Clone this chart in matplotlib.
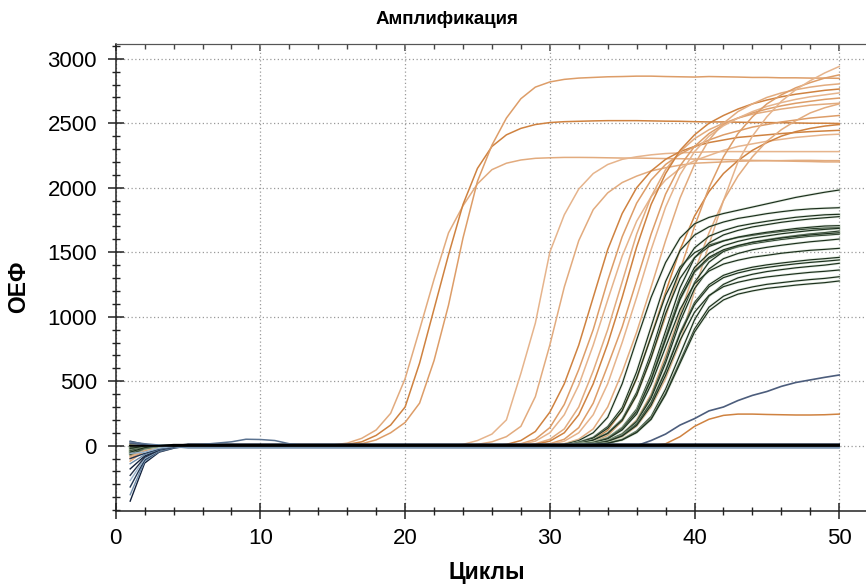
import numpy as np
import matplotlib.pyplot as plt
from matplotlib.ticker import MultipleLocator

plt.rcParams['font.family'] = ['Liberation Sans', 'DejaVu Sans']

cycles = np.arange(1, 51)

# orange samples: first cycle of the rise and the values read from there to cycle 50
orange_start = [15, 16, 17, 24, 25, 27, 28, 28, 29, 29, 30, 30, 31, 32, 32, 33, 33, 37]
orange_rise = [
    [5, 20, 57, 122, 251, 520, 900, 1290, 1650, 1860, 2030, 2140, 2190, 2215, 2228, 2232,
     2235, 2235, 2234, 2232, 2230, 2230, 2228, 2226, 2225, 2222, 2220, 2218, 2215, 2212,
     2210, 2208, 2205, 2203, 2200, 2200],
    [10, 30, 80, 160, 300, 640, 1060, 1480, 1870, 2150, 2320, 2410, 2460, 2490, 2505,
     2512, 2515, 2518, 2520, 2520, 2520, 2518, 2516, 2515, 2512, 2510, 2510, 2508, 2506,
     2505, 2504, 2502, 2500, 2500, 2498],
    [15, 45, 100, 180, 330, 660, 1090, 1610, 2050, 2330, 2540, 2690, 2780, 2820, 2840,
     2850, 2855, 2860, 2862, 2865, 2865, 2862, 2860, 2858, 2862, 2860, 2858, 2855, 2855,
     2852, 2852, 2850, 2850, 2848],
    [10, 40, 90, 200, 560, 950, 1500, 1790, 1990, 2110, 2180, 2220, 2240, 2255, 2265,
     2270, 2275, 2278, 2280, 2280, 2280, 2280, 2280, 2280, 2280, 2280, 2280],
    [10, 30, 70, 150, 380, 780, 1230, 1590, 1830, 1960, 2040, 2090, 2130, 2155, 2175,
     2190, 2195, 2200, 2205, 2208, 2210, 2210, 2212, 2212, 2210, 2210],
    [10, 40, 110, 260, 480, 780, 1150, 1520, 1800, 2000, 2130, 2220, 2280, 2320, 2350,
     2370, 2390, 2400, 2410, 2420, 2428, 2435, 2440, 2445],
    [15, 50, 140, 320, 590, 900, 1280, 1620, 1880, 2060, 2180, 2260, 2320, 2370, 2410,
     2440, 2470, 2490, 2510, 2525, 2540, 2550, 2560],
    [10, 35, 100, 240, 470, 780, 1130, 1470, 1740, 1930, 2060, 2150, 2210, 2250, 2290,
     2320, 2340, 2360, 2375, 2390, 2400, 2410, 2415],
    [15, 50, 130, 300, 580, 900, 1270, 1640, 1930, 2140, 2280, 2380, 2450, 2500, 2540,
     2570, 2590, 2610, 2625, 2640, 2648, 2655],
    [10, 35, 100, 240, 480, 790, 1150, 1540, 1870, 2110, 2290, 2410, 2500, 2560, 2610,
     2650, 2680, 2705, 2725, 2740, 2755, 2765],
    [15, 50, 140, 330, 620, 920, 1280, 1640, 1950, 2170, 2320, 2420, 2490, 2540, 2580,
     2610, 2635, 2655, 2670, 2685, 2695],
    [10, 35, 100, 240, 480, 800, 1150, 1520, 1850, 2100, 2280, 2400, 2480, 2540, 2590,
     2630, 2660, 2685, 2705, 2720, 2735],
    [15, 50, 130, 300, 570, 880, 1230, 1590, 1920, 2180, 2370, 2500, 2590, 2650, 2700,
     2735, 2760, 2780, 2795, 2805],
    [15, 45, 120, 270, 520, 850, 1190, 1520, 1780, 1970, 2110, 2210, 2290, 2350, 2400,
     2435, 2460, 2478, 2490],
    [10, 30, 80, 190, 390, 680, 1000, 1360, 1700, 2000, 2240, 2420, 2550, 2650, 2720,
     2775, 2815, 2850, 2875],
    [10, 30, 70, 150, 300, 520, 800, 1200, 1560, 1900, 2200, 2400, 2550, 2670, 2760,
     2830, 2890, 2940],
    [10, 35, 90, 200, 400, 700, 1020, 1350, 1650, 1900, 2090, 2240, 2360, 2450, 2520,
     2580, 2620, 2650],
    [0, 15, 70, 150, 205, 235, 245, 245, 242, 240, 238, 238, 240, 245],
]
orange_head = [
    [-120, -40, -10], [-80, -30, -5], [-50, -20, -5], [-30, -10, 0], [-10, 0, 0],
    [10, 5, 0], [-100, -35, -10], [-60, -25, -5], [-40, -15, 0], [-20, -5, 0],
    [0, 0, 0], [-90, -30, -10], [-70, -25, -5], [-45, -15, 0], [-25, -10, 0],
    [5, 0, 0], [-55, -20, -5], [-35, -10, 0],
]
orange_flat_head = [[-65, -25, -5], [10, 5, 0]]
orange_flat_level = [5, -10]

# green samples: the first one starts at cycle 31, the rest at cycle 32
green_start = [31] + [32] * 17
green_rise = [
    [10, 40, 100, 220, 480, 820, 1150, 1420, 1610, 1720, 1770, 1800, 1825, 1850, 1875,
     1900, 1925, 1945, 1965, 1982],
    [28, 65, 148, 295, 572, 922, 1273, 1513, 1633, 1697, 1734, 1762, 1780, 1799, 1814,
     1827, 1836, 1841, 1845],
    [25, 59, 135, 270, 524, 845, 1166, 1386, 1496, 1555, 1589, 1614, 1631, 1648, 1661,
     1673, 1682, 1687, 1690],
    [18, 45, 99, 206, 413, 718, 1076, 1363, 1534, 1624, 1668, 1701, 1722, 1740, 1756,
     1771, 1781, 1790, 1794],
    [17, 43, 94, 196, 392, 682, 1024, 1297, 1459, 1544, 1587, 1617, 1638, 1655, 1670,
     1684, 1694, 1703, 1706],
    [12, 27, 62, 142, 284, 551, 888, 1225, 1456, 1572, 1634, 1669, 1696, 1714, 1732,
     1746, 1758, 1767, 1776],
    [12, 25, 59, 135, 270, 522, 843, 1163, 1382, 1491, 1550, 1584, 1609, 1626, 1643,
     1656, 1668, 1677, 1685],
    [11, 25, 57, 131, 262, 508, 820, 1132, 1345, 1451, 1509, 1542, 1566, 1583, 1599,
     1612, 1624, 1632, 1640],
    [8, 17, 42, 92, 191, 383, 666, 998, 1265, 1423, 1506, 1548, 1577, 1597, 1614, 1629,
     1642, 1652, 1664],
    [8, 16, 40, 88, 184, 368, 641, 961, 1218, 1370, 1450, 1490, 1519, 1538, 1554, 1568,
     1581, 1591, 1602],
    [12, 25, 58, 132, 264, 512, 826, 1139, 1354, 1461, 1519, 1552, 1577, 1593, 1610,
     1623, 1634, 1643, 1651],
    [11, 23, 54, 122, 245, 474, 765, 1056, 1255, 1354, 1408, 1438, 1461, 1476, 1492,
     1504, 1515, 1522, 1530],
    [7, 15, 37, 80, 168, 336, 584, 876, 1110, 1248, 1321, 1358, 1384, 1402, 1416, 1429,
     1441, 1450, 1460],
    [7, 14, 36, 79, 166, 331, 576, 864, 1094, 1231, 1303, 1339, 1365, 1382, 1397, 1410,
     1421, 1430, 1440],
    [6, 10, 21, 49, 113, 226, 438, 707, 976, 1159, 1251, 1301, 1329, 1350, 1365, 1379,
     1390, 1400, 1414],
    [7, 14, 34, 75, 157, 313, 545, 817, 1035, 1165, 1233, 1267, 1291, 1308, 1321, 1333,
     1344, 1352, 1362],
    [5, 9, 20, 46, 105, 210, 406, 655, 904, 1074, 1159, 1205, 1231, 1251, 1264, 1277,
     1288, 1297, 1310],
    [5, 9, 19, 45, 102, 204, 396, 639, 881, 1047, 1130, 1175, 1200, 1220, 1232, 1245,
     1255, 1264, 1277],
]
green_head = [
    [-60, -20, -5], [-40, -15, -5], [-20, -5, 0], [0, 0, 0], [-50, -20, -5], [-30, -10, 0],
    [-10, -5, 0], [-70, -25, -5], [-45, -15, 0], [-15, -5, 0], [-35, -10, 0], [-55, -20, -5],
    [-25, -10, 0], [5, 0, 0], [-65, -20, -5], [-40, -10, 0], [-20, -5, 0], [-50, -15, 0],
]

# blue samples
blue_late_start = 36
blue_late_rise = [0, 40, 90, 160, 210, 270, 300, 350, 390, 420, 460, 490, 510, 530, 548]
blue_flat_head = [
    [-430, -135, -50, -20], [-380, -120, -45, -18], [-320, -110, -40, -15],
    [-270, -100, -38, -12], [-230, -90, -35, -10], [-180, -80, -30, -10],
    [-140, -70, -28, -8], [-100, -60, -25, -5], [-60, -50, -20, -5], [35, 10, 0, 0],
]
blue_flat_level = [0, -8, 6, -12, 3, 10, -18, 5, -5, 12]
blue_bump = [30, 15, 5, 0, 5, 10, 20, 30, 50, 48, 40, 15, 5]


def build(head, start=None, rise=None, level=0):
    y = np.full(len(cycles), float(level))
    y[:len(head)] = head
    if rise is not None:
        y[start - 1:] = rise
    return y


fig = plt.figure(figsize=(8.66, 5.85), dpi=100)
ax = fig.add_axes([0.1336, 0.127, 0.8664, 0.7973])

orange_cols = ['#e2ab7e', '#cf8240', '#dd9d68', '#e6b48c']
for i, (s, r, h) in enumerate(zip(orange_start, orange_rise, orange_head)):
    ax.plot(cycles, build(h, s, r), color=orange_cols[i % 4], lw=1.1, zorder=2)
for h, lv in zip(orange_flat_head, orange_flat_level):
    ax.plot(cycles, build(h, level=lv), color='#dd9d68', lw=1.1, zorder=2)

for s, r, h in zip(green_start, green_rise, green_head):
    y = build(h, s, r)
    ax.plot(cycles, y, color='#b3cab0', lw=1.9, alpha=0.4, zorder=3)
    ax.plot(cycles, y, color='#1d301d', lw=0.85, zorder=3)

ax.plot(cycles, build([20, 5, 0], blue_late_start, blue_late_rise),
        color='#4c5d7c', lw=1.2, zorder=3)
blue_cols = ['#12203a', '#6d8aa8', '#1f3552', '#98b2cc', '#24324a']
for i, (h, lv) in enumerate(zip(blue_flat_head, blue_flat_level)):
    ax.plot(cycles, build(h, level=lv), color=blue_cols[i % 5], lw=1.0, zorder=4)
ax.plot(cycles, build(blue_bump, level=8), color='#5a7290', lw=1.1, zorder=4)
for lv in [-4, 3, 9]:
    ax.plot(cycles, build([0, 0, 0], level=lv), color='black', lw=1.0, zorder=4)

ax.set_xlim(0, 51.85)
ax.set_ylim(-504, 3112)
ax.xaxis.set_major_locator(MultipleLocator(10))
ax.xaxis.set_minor_locator(MultipleLocator(2))
ax.set_yticks(range(0, 3001, 500))
ax.yaxis.set_minor_locator(MultipleLocator(100))
ax.tick_params(which='major', direction='inout', length=11, width=1.1,
               labelsize=16, pad=7, color='#222222')
ax.tick_params(axis='y', which='major', pad=8)
ax.tick_params(which='minor', direction='inout', length=5.5, width=1.0, color='#222222')
ax.grid(True, which='major', color='#9a9a9a', linestyle=(0, (1, 2)), lw=0.9)

top = ax.secondary_xaxis('top')
top.xaxis.set_major_locator(MultipleLocator(10))
top.xaxis.set_minor_locator(MultipleLocator(2))
top.tick_params(which='major', direction='in', length=5, width=1.1, labeltop=False,
                color='#444444')
top.tick_params(which='minor', direction='in', length=3.5, width=1.0, color='#444444')
top.spines['top'].set_color('#555555')

ax.spines['right'].set_visible(False)
ax.spines['top'].set_color('#555555')
for sp in ['left', 'bottom']:
    ax.spines[sp].set_color('#222222')
    ax.spines[sp].set_linewidth(1.1)

fig.text(0.516, 0.966, 'Амплификация', ha='center', va='center',
         fontsize=13.5, fontweight='bold')
fig.text(0.562, 0.021, 'Циклы', ha='center', va='center', fontsize=16.5,
         fontweight='bold')
fig.text(0.021, 0.509, 'ОЕФ', ha='center', va='center', rotation=90,
         fontsize=16.5, fontweight='bold')

fig.savefig('out.png', dpi=100)
